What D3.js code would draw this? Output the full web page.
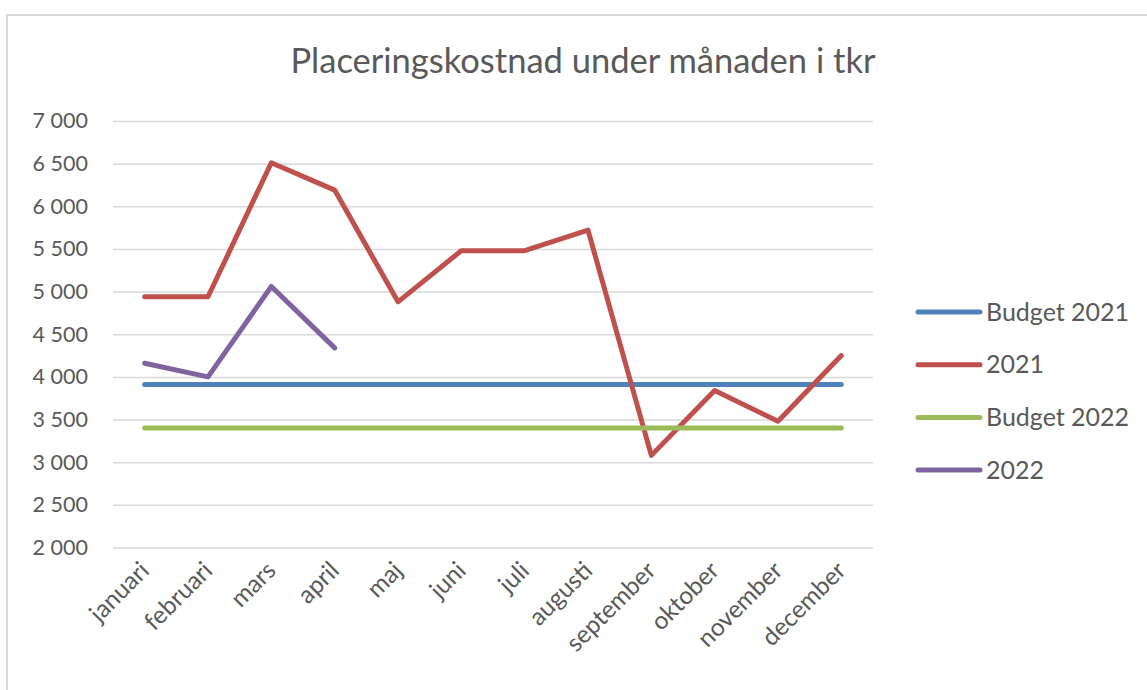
<!DOCTYPE html>
<html>
<head>
<meta charset="utf-8">
<script src="https://cdn.jsdelivr.net/npm/d3@7"></script>
<style>
  body { margin: 0; background: #fff; }
  svg text { font-family: Lato, "Open Sans", sans-serif; fill: #595959; }
</style>
</head>
<body>
<svg id="chart" width="1147" height="690"></svg>
<script>
// data
const months = ['januari', 'februari', 'mars', 'april', 'maj', 'juni', 'juli', 'augusti', 'september', 'oktober', 'november', 'december'];
const budget2021 = [3910, 3910, 3910, 3910, 3910, 3910, 3910, 3910, 3910, 3910, 3910, 3910];
const actual2021 = [4940, 4940, 6510, 6190, 4880, 5480, 5480, 5720, 3080, 3840, 3480, 4250];
const budget2022 = [3400, 3400, 3400, 3400, 3400, 3400, 3400, 3400, 3400, 3400, 3400, 3400];
const actual2022 = [4160, 4000, 5060, 4340];
const yTicks = [2000, 2500, 3000, 3500, 4000, 4500, 5000, 5500, 6000, 6500, 7000];

const series = [
    { name: 'Budget 2021', values: budget2021, color: '#4f81bd' },
    { name: '2021', values: actual2021, color: '#c0504d' },
    { name: 'Budget 2022', values: budget2022, color: '#9bbb59' },
    { name: '2022', values: actual2022, color: '#8064a2' }
];

const svg = d3.select('#chart');
const locale = d3.formatLocale({ decimal: ',', thousands: ' ', grouping: [3], currency: ['', ''] });
const fmt = locale.format(',d');

// chart frame
svg.append('rect')
    .attr('x', 7).attr('y', 15)
    .attr('width', 1160).attr('height', 700)
    .attr('fill', '#fff')
    .attr('stroke', '#d9d9d9')
    .attr('stroke-width', 2);

svg.append('text')
    .attr('x', 583).attr('y', 73)
    .attr('text-anchor', 'middle')
    .style('font-size', '34.5px')
    .text('Placeringskostnad under månaden i tkr');

let x = d3.scaleBand().domain(months).range([113, 873]);
let y = d3.scaleLinear().domain([2000, 7000]).range([547.5, 121]);

// gridlines + y labels
let yAxis = svg.append('g')
    .attr('transform', 'translate(113,0)')
    .call(d3.axisLeft(y).tickValues(yTicks).tickFormat(fmt).tickSize(-760).tickPadding(25));
yAxis.select('.domain').remove();
yAxis.selectAll('line').attr('stroke', '#d9d9d9').attr('stroke-width', 1.5);
yAxis.selectAll('text').style('font-size', '21.5px').attr('fill', '#595959');

// x labels
svg.append('g').selectAll('text')
    .data(months)
    .join('text')
    .attr('text-anchor', 'end')
    .attr('transform', d => 'translate(' + (x(d) + x.bandwidth() / 2 + 6) + ',572) rotate(-45)')
    .style('font-size', '24.5px')
    .text(d => d);

let line = d3.line()
    .x((d, i) => x(months[i]) + x.bandwidth() / 2)
    .y(d => y(d));

svg.append('g').selectAll('path')
    .data(series)
    .join('path')
    .attr('d', d => line(d.values))
    .attr('fill', 'none')
    .attr('stroke', d => d.color)
    .attr('stroke-width', 5)
    .attr('stroke-linecap', 'round')
    .attr('stroke-linejoin', 'round');

// legend
let legend = svg.append('g').selectAll('g')
    .data(series)
    .join('g')
    .attr('transform', (d, i) => 'translate(918,' + (312 + i * 52.7) + ')');
legend.append('line')
    .attr('x1', 0).attr('x2', 62)
    .attr('stroke', d => d.color)
    .attr('stroke-width', 5)
    .attr('stroke-linecap', 'round');
legend.append('text')
    .attr('x', 68).attr('dy', '0.35em')
    .style('font-size', '25px')
    .text(d => d.name);
</script>
</body>
</html>
